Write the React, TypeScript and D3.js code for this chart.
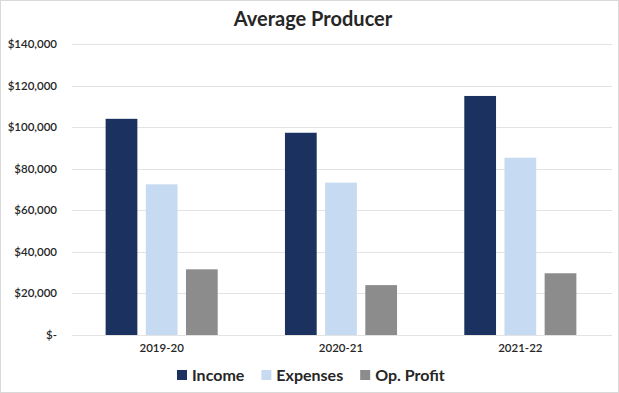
import React, { useEffect, useRef } from 'react';
import * as d3 from 'd3';

const years = ['2019-20', '2020-21', '2021-22'];
const series = ['Income', 'Expenses', 'Op. Profit'];
const income = [104000, 97300, 115000];
const expenses = [72500, 73300, 85300];
const opProfit = [31600, 24000, 29700];
const yTicks = [0, 20000, 40000, 60000, 80000, 100000, 120000, 140000];
const colors = ['#1b3160', '#c6daf1', '#8c8c8c'];

const W = 619;
const H = 393;
const FONT = 'Lato, "Noto Sans", sans-serif';

export default function App() {
  const ref = useRef<SVGSVGElement>(null);

  useEffect(() => {
    const svg = d3.select(ref.current);
    svg.selectAll('*').remove();

    const values = [income, expenses, opProfit];

    svg.append('rect')
      .attr('x', 0.5).attr('y', 0.5)
      .attr('width', W - 1).attr('height', H - 1)
      .attr('fill', '#fff').attr('stroke', '#d9d9d9');

    svg.append('text')
      .attr('x', 313).attr('y', 26)
      .attr('text-anchor', 'middle')
      .style('font-family', FONT).style('font-weight', 700)
      .style('font-size', '20px').attr('fill', '#262626')
      .text('Average Producer');

    const y = d3.scaleLinear().domain([0, 140000]).range([335, 44]);
    const x0 = d3.scaleBand().domain(years).range([72, 610])
      .paddingInner(0.375).paddingOuter(0.1875);
    const x1 = d3.scaleBand().domain(series).range([0, x0.bandwidth()])
      .paddingInner(0.21);

    // gridlines + y labels
    const fmt = (v: number) => v === 0 ? '$-' : '$' + d3.format(',')(v);
    const grid = svg.append('g');
    grid.selectAll('line').data(yTicks).enter().append('line')
      .attr('x1', 72).attr('x2', 612)
      .attr('y1', d => Math.round(y(d)) + 0.5).attr('y2', d => Math.round(y(d)) + 0.5)
      .attr('stroke', '#e3e3e3').attr('stroke-width', 1);
    grid.selectAll('text').data(yTicks).enter().append('text')
      .attr('x', 57).attr('y', d => y(d) + 4)
      .attr('text-anchor', 'end')
      .style('font-family', FONT).style('font-weight', 600)
      .style('font-size', '11.5px').attr('fill', '#262626')
      .text(d => fmt(d));

    // bars
    const groups = svg.append('g').selectAll('g').data(years).enter().append('g')
      .attr('transform', d => `translate(${x0(d)},0)`);
    groups.selectAll('rect')
      .data((_, i) => series.map((s, si) => ({ s, si, v: values[si][i] })))
      .enter().append('rect')
      .attr('x', d => x1(d.s)!)
      .attr('width', x1.bandwidth())
      .attr('y', d => y(d.v))
      .attr('height', d => y(0) - y(d.v))
      .attr('fill', d => colors[d.si]);

    // category labels
    svg.append('g').selectAll('text').data(years).enter().append('text')
      .attr('x', d => x0(d)! + x0.bandwidth() / 2)
      .attr('y', 352)
      .attr('text-anchor', 'middle')
      .style('font-family', FONT).style('font-weight', 600)
      .style('font-size', '11.5px').attr('fill', '#262626')
      .text(d => d);

    // legend
    const leg = svg.append('g');
    let cx = 177;
    series.forEach((s, i) => {
      leg.append('rect')
        .attr('x', cx).attr('y', 370).attr('width', 10).attr('height', 10)
        .attr('fill', colors[i]);
      const t = leg.append('text')
        .attr('x', cx + 15).attr('y', 381)
        .style('font-family', FONT).style('font-weight', 700)
        .style('font-size', '16px').attr('fill', '#262626')
        .text(s);
      const len = (t.node() as SVGTextElement).getComputedTextLength();
      cx += 15 + len + 17;
    });
  }, []);

  return (
    <svg ref={ref} width={W} height={H}
      style={{ position: 'absolute', left: 0, top: 0, background: '#fff' }} />
  );
}
